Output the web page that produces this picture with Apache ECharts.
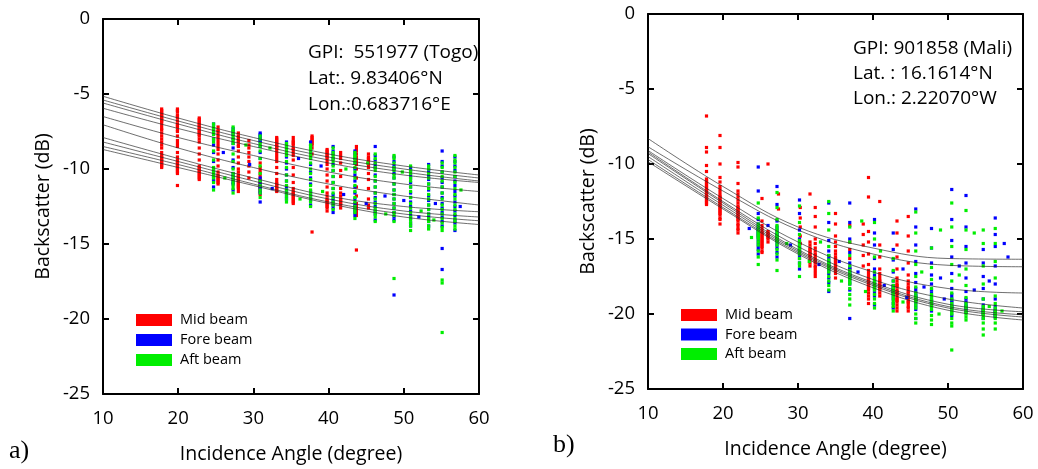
<!DOCTYPE html>
<html><head><meta charset="utf-8">
<script src="https://cdn.jsdelivr.net/npm/echarts@6/dist/echarts.min.js"></script>
<style>html,body{margin:0;padding:0;background:#fff}#c{width:1038px;height:469px}</style>
</head><body><div id="c"></div>
<script>
// ---------- shared ----------
const xTicks = [10, 20, 30, 40, 50, 60];
const yTicks = [0, -5, -10, -15, -20, -25];
const fitX = [10, 20, 30, 40, 50, 60];

// ---------- Panel a) GPI 551977 (Togo) ----------
const aFits = [
  [-5.15, -6.6, -7.9, -9.0, -9.8, -10.4],
  [-5.4, -6.8, -8.1, -9.2, -10.0, -10.6],
  [-5.6, -7.0, -8.3, -9.4, -10.2, -10.8],
  [-5.95, -7.3, -8.5, -9.6, -10.4, -10.9],
  [-6.5, -7.9, -9.1, -10.2, -11.0, -11.5],
  [-7.05, -8.6, -9.9, -11.0, -11.8, -12.4],
  [-7.9, -9.3, -10.6, -11.8, -12.5, -12.85],
  [-8.2, -9.5, -10.8, -12.0, -12.8, -13.2],
  [-8.5, -9.7, -11.0, -12.2, -13.0, -13.45],
  [-8.7, -9.9, -11.1, -12.3, -13.2, -13.7]
];

const aMidAng = [17.8, 19.9, 22.8, 25.3, 28.0, 29.4, 30.9, 33.1, 35.3, 37.8, 39.8, 41.6, 43.7, 45.3];
const aMidVal = [
  [-6.0,-6.1,-6.2,-6.3,-6.4,-6.5,-6.6,-6.7,-6.8,-6.9,-7.1,-7.3,-7.4,-7.6,-7.8,-8.0,-8.2,-8.4,-8.6,-8.9,-9.1,-9.2,-9.3,-9.4,-9.5,-9.6,-9.7,-9.8,-9.9],
  [-6.0,-6.1,-6.2,-6.4,-6.5,-6.6,-6.8,-7.0,-7.1,-7.2,-7.4,-7.5,-7.8,-8.1,-8.3,-8.5,-8.9,-9.2,-9.4,-9.5,-9.6,-9.7,-9.8,-9.9,-10.0,-10.1,-10.2,-10.3,-11.1],
  [-6.6,-6.7,-6.8,-6.9,-7.0,-7.1,-7.2,-7.3,-7.4,-7.5,-7.6,-7.7,-7.8,-8.0,-8.2,-8.6,-9.0,-9.4,-9.8,-9.9,-10.0,-10.1,-10.2,-10.3,-10.4,-10.5,-10.6,-10.7],
  [-7.2,-7.4,-7.5,-7.7,-7.9,-8.1,-8.3,-8.5,-8.7,-9.0,-9.4,-9.8,-10.2,-10.4,-10.5,-10.6,-10.7,-10.8,-10.9,-11.0],
  [-7.6,-7.8,-7.9,-8.1,-8.2,-8.4,-8.5,-8.8,-9.2,-9.6,-10.0,-10.2,-10.4,-10.5,-10.6,-10.7,-10.8,-10.9,-11.0,-11.1,-11.2,-11.3,-11.5],
  [-8.1,-8.4,-8.6,-8.9,-9.2,-9.5,-9.8,-10.2,-10.6],
  [-9.6,-9.9,-10.1,-10.3,-10.5,-10.7,-10.9,-11.0,-11.1,-11.2,-11.3,-11.4,-11.5,-11.7],
  [-7.9,-8.0,-8.1,-8.2,-8.3,-8.4,-8.5,-8.6,-8.7,-8.9,-9.1,-9.3,-9.5,-9.9,-10.3,-10.7,-10.9,-11.0,-11.1,-11.2,-11.3,-11.4,-11.5],
  [-7.9,-8.1,-8.2,-8.3,-8.4,-8.6,-8.7,-8.9,-9.1,-9.4,-9.9,-10.4,-10.9,-11.3,-11.5,-11.6,-11.7,-11.8,-11.9,-12.0,-12.1,-12.2,-12.3],
  [-7.8,-7.9,-8.0,-8.1,-8.2,-8.3,-8.4,-8.6,-9.0,-14.2],
  [-8.7,-8.8,-8.9,-9.0,-9.1,-9.2,-9.3,-9.5,-9.7,-10.0,-10.4,-10.8,-11.2,-11.6,-11.8,-12.0,-12.1,-12.2,-12.3,-12.4,-12.5,-12.6,-12.8],
  [-8.9,-9.1,-9.3,-9.6,-10.1,-10.5,-11.3,-11.6,-11.8,-12.0,-12.1,-12.2,-12.3,-12.4,-12.6],
  [-8.5,-8.7,-8.8,-9.0,-9.2,-9.3,-9.5,-9.7,-10.0,-10.6,-11.2,-11.8,-12.3,-12.5,-12.6,-12.7,-12.8,-12.9,-13.0,-13.1,-15.4],
  [-9.0,-9.2,-9.3,-9.4,-9.5,-9.7,-9.9,-10.3,-10.7,-11.3,-12.0,-12.4,-12.6]
];

const aSideAng = [24.7, 27.3, 30.9, 34.4, 37.6, 40.6, 43.5, 46.2, 48.7, 50.9, 53.3, 55.1, 56.8];
const aForeVal = [
  [-7.0,-7.3,-7.6,-8.0,-8.4,-8.9,-9.5,-10.0,-10.2,-10.4,-10.5,-10.7,-10.8,-11.2],
  [-7.3,-7.5,-7.7,-8.0,-8.3,-8.6,-9.4,-9.9,-10.3,-10.5,-10.7,-10.9,-11.0,-11.4],
  [-7.6,-7.7,-7.8,-7.9,-8.0,-8.1,-8.2,-8.5,-8.9,-9.3,-10.6,-10.8,-11.0,-11.2,-11.3,-11.5,-11.6,-12.2],
  [-8.2,-8.4,-8.6,-8.9,-9.2,-9.6,-10.0,-10.4,-10.8,-11.2,-11.4,-11.6,-11.8,-12.0],
  [-8.2,-8.4,-8.6,-8.8,-9.0,-9.3,-9.7,-10.2,-10.6,-11.0,-11.5,-11.7,-11.9,-12.1,-12.4],
  [-8.5,-8.8,-9.0,-9.3,-9.7,-10.1,-10.5,-10.9,-11.3,-11.7,-12.0,-12.2,-12.4,-12.6,-12.9],
  [-8.8,-9.0,-9.3,-9.6,-10.0,-10.4,-10.8,-11.2,-11.6,-12.0,-12.3,-12.5,-12.7,-12.9,-13.1],
  [-8.5,-9.1,-9.4,-9.7,-9.9,-10.4,-10.8,-11.2,-11.6,-11.9,-12.2,-12.5,-12.8,-13.0,-13.4],
  [-9.2,-9.5,-9.8,-10.0,-10.3,-10.6,-11.0,-11.4,-11.7,-12.0,-12.3,-12.6,-12.9,-13.2,-13.4,-18.4],
  [-9.9,-10.1,-10.4,-10.6,-10.9,-11.2,-11.6,-11.9,-12.2,-12.5,-12.8,-13.1,-13.3,-13.6,-13.8],
  [-9.7,-10.0,-10.2,-10.5,-10.7,-11.0,-11.4,-11.8,-12.1,-12.4,-12.7,-13.0,-13.2,-13.5,-13.8],
  [-8.8,-9.5,-9.8,-10.2,-10.6,-10.9,-11.2,-11.6,-11.9,-12.3,-12.6,-12.9,-13.2,-13.5,-13.8,-15.3,-16.7],
  [-9.2,-9.5,-9.8,-10.1,-10.5,-10.8,-11.1,-11.5,-11.8,-12.2,-12.5,-12.8,-13.1,-13.4,-13.6,-14.1]
];
const aAftVal = [
  [-7.0,-7.2,-7.3,-7.5,-7.7,-8.0,-8.2,-8.8,-9.4,-9.9,-10.1,-10.3,-10.5,-10.6,-10.9,-11.4],
  [-7.2,-7.4,-7.5,-7.7,-7.9,-8.1,-8.3,-9.0,-9.5,-10.0,-10.3,-10.5,-10.7,-10.9,-11.1,-11.3,-11.6],
  [-7.8,-8.0,-8.3,-8.5,-8.8,-9.3,-9.8,-10.3,-10.8,-11.1,-11.4,-11.6,-11.9],
  [-8.3,-8.5,-8.7,-8.9,-9.1,-9.5,-9.9,-10.4,-10.8,-11.1,-11.4,-11.6,-11.8,-12.0,-12.2],
  [-8.4,-8.5,-8.7,-8.8,-9.0,-9.1,-9.3,-9.6,-10.0,-10.3,-10.7,-11.1,-11.4,-11.6,-11.8,-12.0,-12.2,-12.5],
  [-8.6,-8.9,-9.1,-9.3,-9.5,-9.8,-10.1,-10.5,-10.9,-11.3,-11.6,-11.9,-12.2,-12.4,-12.7],
  [-8.9,-9.1,-9.2,-9.4,-9.6,-9.9,-10.2,-10.6,-11.1,-11.5,-11.9,-12.2,-12.5,-12.7,-12.9,-13.3],
  [-9.0,-9.3,-9.6,-9.9,-10.1,-10.5,-10.8,-11.2,-11.6,-12.0,-12.3,-12.6,-12.8,-13.0,-13.2,-13.5],
  [-9.1,-9.3,-9.6,-9.9,-10.1,-10.4,-10.6,-11.0,-11.4,-11.7,-12.0,-12.3,-12.6,-12.9,-13.1,-13.5,-17.3],
  [-9.8,-10.1,-10.3,-10.6,-10.8,-11.2,-11.5,-11.9,-12.3,-12.6,-12.9,-13.2,-13.4,-13.6,-13.8,-14.1],
  [-9.8,-10.0,-10.3,-10.6,-11.0,-11.3,-11.7,-12.0,-12.4,-12.7,-13.0,-13.3,-13.5,-13.8,-14.0],
  [-9.6,-9.9,-10.2,-10.5,-10.8,-11.2,-11.6,-12.0,-12.4,-12.7,-13.0,-13.3,-13.6,-13.9,-14.1,-17.4,-17.6,-20.9],
  [-9.1,-9.4,-9.6,-9.9,-10.2,-10.5,-10.9,-11.3,-11.7,-12.0,-12.4,-12.7,-13.0,-13.3,-13.5,-13.8,-14.0]
];
const aForeLoose = [[26.0,-8.9],[29.5,-9.7],[32.5,-11.3],[36.0,-9.3],[39.0,-9.8],[42.0,-11.7],[45.0,-12.3],[47.5,-11.8],[50.0,-12.1],[52.0,-13.2],[54.2,-12.3],[57.5,-12.5]];
const aAftLoose = [[26.2,-10.6],[29.0,-8.4],[32.2,-8.6],[36.2,-12.0],[39.2,-11.5],[42.3,-10.0],[45.2,-9.6],[47.6,-13.0],[49.8,-10.2],[52.3,-12.8],[54.0,-13.4],[57.6,-11.4]];

// ---------- Panel b) GPI 901858 (Mali) ----------
const bFits = [
  [-8.3, -11.5, -14.2, -15.6, -16.3, -16.35],
  [-8.85, -11.8, -14.4, -16.0, -16.75, -16.85],
  [-9.1, -12.3, -15.2, -17.2, -18.3, -18.6],
  [-9.2, -12.5, -15.5, -17.7, -19.0, -19.6],
  [-9.3, -12.6, -15.7, -17.9, -19.35, -19.85],
  [-9.5, -12.75, -15.8, -18.0, -19.5, -20.05],
  [-9.7, -12.9, -15.9, -18.1, -19.6, -20.2],
  [-9.85, -13.0, -16.0, -18.25, -19.75, -20.4]
];

const bMidAng = [17.8, 19.6, 22.0, 25.2, 26.0, 27.4, 30.3, 31.6, 32.3, 35.0, 36.9, 38.7, 39.4, 40.9, 43.2, 44.7];
const bMidVal = [
  [-6.8,-8.9,-9.2,-10.1,-10.5,-11.0,-11.1,-11.2,-11.3,-11.4,-11.5,-11.6,-11.7,-11.75,-11.8,-11.9,-12.0,-12.1,-12.15,-12.2,-12.3,-12.4,-12.5,-12.6,-12.7],
  [-8.1,-8.9,-10.0,-10.9,-11.2,-11.5,-11.7,-11.9,-12.1,-12.2,-12.3,-12.4,-12.5,-12.6,-12.7,-12.8,-12.9,-13.0,-13.1,-13.2,-13.3,-13.4,-13.6,-13.7,-14.0],
  [-9.9,-10.2,-11.3,-11.8,-12.0,-12.2,-12.4,-12.6,-12.8,-12.9,-13.0,-13.1,-13.2,-13.3,-13.4,-13.5,-13.6,-13.7,-13.8,-14.0,-14.1,-14.3,-14.4,-14.6],
  [-12.3,-13.8,-14.1,-14.3,-14.5,-14.6,-14.7,-14.8,-14.9,-15.0,-15.1,-15.2,-15.3,-15.4,-15.5,-15.6,-15.8,-15.9],
  [-10.0,-14.5,-14.6,-14.7,-14.8,-14.9,-15.0,-15.2],
  [-12.0,-13.0],
  [-12.9,-13.6,-14.2,-14.8,-15.3],
  [-12.0,-15.2,-15.4,-15.6,-15.7,-15.8,-15.9,-16.0,-16.1,-16.2,-16.4,-16.6,-16.8],
  [-12.9,-13.5,-14.2,-15.0,-15.3,-15.6,-15.8,-16.0,-16.1,-16.3,-16.4,-16.5,-16.6,-16.8,-16.9,-17.1,-17.3,-17.5],
  [-13.3,-14.0,-14.8,-15.2,-15.5,-15.8,-16.0,-16.2,-16.3,-16.4,-16.5,-16.6,-16.7,-16.8,-16.9,-17.0,-17.1,-17.3,-17.6],
  [-14.1,-15.2,-15.7,-16.3,-17.0],
  [-14.0,-14.7,-15.4,-16.1,-16.8],
  [-10.9,-12.2,-14.5,-15.2,-16.0,-16.7,-17.1,-17.3,-17.5,-17.6,-17.7,-17.8,-17.9,-18.0,-18.1,-18.2,-18.3,-18.4,-18.6,-18.8,-19.0,-19.3],
  [-12.5,-15.4,-16.2,-17.0,-17.3,-17.5,-17.7,-17.8,-17.9,-18.0,-18.1,-18.2,-18.3,-18.4,-18.6,-18.8],
  [-13.8,-14.6,-15.4,-16.2,-17.0,-17.6,-17.8,-18.0,-18.1,-18.2,-18.4,-18.5,-18.6,-18.7,-18.9,-19.0,-19.1,-19.2,-19.4,-19.6,-19.8],
  [-13.5,-14.8,-15.8,-16.6,-17.4,-17.8,-18.0,-18.2,-18.3,-18.5,-18.6,-18.8,-18.9,-19.1,-19.2,-19.3,-19.5,-19.6,-19.8]
];

const bSideAng = [24.7, 27.2, 30.2, 34.1, 36.9, 40.2, 42.7, 45.7, 47.8, 50.5, 52.4, 54.7, 56.3];
const bForeVal = [
  [-10.2,-11.8,-13.3,-13.7,-14.0,-14.2,-14.3,-14.4,-14.5,-14.6,-14.7,-14.8,-14.9,-15.1,-15.3,-15.5,-15.7,-16.0],
  [-11.5,-12.7,-13.8,-14.2,-14.4,-14.6,-14.7,-14.8,-14.9,-15.0,-15.1,-15.2,-15.4,-15.6,-15.9,-16.2],
  [-12.4,-13.3,-14.4,-15.0,-15.2,-15.4,-15.5,-15.6,-15.7,-15.8,-15.9,-16.1,-16.3,-16.6,-17.0],
  [-12.6,-13.9,-15.1,-15.8,-16.1,-16.3,-16.5,-16.6,-16.7,-16.8,-16.9,-17.0,-17.1,-17.3,-17.6,-17.9,-18.5],
  [-12.6,-13.9,-15.0,-15.9,-16.6,-16.9,-17.0,-17.2,-17.3,-17.4,-17.5,-17.6,-17.8,-18.0,-18.4,-20.3],
  [-13.7,-14.6,-15.4,-16.3,-17.0,-17.4,-17.6,-17.8,-17.9,-18.0,-18.1,-18.2,-18.4,-18.6,-18.8,-19.4],
  [-14.6,-15.7,-16.4,-17.2,-17.8,-18.1,-18.2,-18.3,-18.4,-18.5,-18.6,-18.8,-19.0,-19.3,-19.6],
  [-13.0,-14.2,-15.4,-16.5,-17.3,-17.9,-18.3,-18.5,-18.7,-18.8,-18.9,-19.0,-19.1,-19.3,-19.5,-19.7,-20.3],
  [-14.3,-15.6,-16.6,-17.4,-18.0,-18.4,-18.6,-18.8,-19.0,-19.1,-19.2,-19.3,-19.5,-19.8],
  [-11.7,-13.7,-15.1,-16.2,-17.3,-18.3,-18.7,-18.9,-19.1,-19.2,-19.4,-19.5,-19.6,-19.8,-20.1],
  [-12.1,-14.2,-15.5,-16.6,-17.6,-18.5,-19.0,-19.2,-19.4,-19.5,-19.6,-19.7,-19.9],
  [-15.7,-16.6,-17.5,-18.3,-19.0,-19.4,-19.6,-19.7,-19.8,-19.9,-20.0,-20.3],
  [-13.6,-14.7,-15.5,-16.8,-18.0,-19.0,-19.5,-19.7,-19.8,-19.9,-20.0,-20.1,-20.2]
];
const bAftVal = [
  [-12.6,-13.6,-14.0,-14.2,-14.4,-14.5,-14.6,-14.7,-14.8,-14.9,-15.0,-15.2,-15.4,-15.8,-16.2,-16.7],
  [-11.9,-12.9,-13.7,-14.1,-14.3,-14.5,-14.7,-14.8,-14.9,-15.0,-15.1,-15.2,-15.4,-15.7,-16.0,-16.4,-17.1],
  [-12.8,-13.9,-14.7,-15.1,-15.3,-15.5,-15.6,-15.7,-15.8,-15.9,-16.0,-16.3,-16.6,-16.8,-17.5],
  [-12.5,-13.3,-14.4,-15.5,-16.1,-16.4,-16.6,-16.7,-16.8,-16.9,-17.0,-17.2,-17.5,-17.8,-18.1,-18.4],
  [-14.2,-15.2,-16.1,-16.8,-17.1,-17.3,-17.4,-17.5,-17.6,-17.7,-17.9,-18.0,-18.3,-18.7,-19.0,-19.4],
  [-13.9,-15.0,-16.2,-17.2,-17.6,-17.8,-17.9,-18.0,-18.1,-18.2,-18.3,-18.4,-18.7,-19.0,-19.3,-19.6],
  [-16.3,-17.1,-17.8,-18.1,-18.3,-18.4,-18.5,-18.6,-18.7,-18.9,-19.1,-19.3,-19.5,-19.8],
  [-13.2,-14.6,-15.8,-16.7,-17.5,-18.2,-18.6,-18.8,-18.9,-19.0,-19.1,-19.2,-19.4,-19.6,-20.0,-20.3,-20.6],
  [-15.6,-16.9,-17.7,-18.3,-18.7,-18.9,-19.1,-19.2,-19.3,-19.4,-19.5,-19.7,-20.1,-20.4,-20.7],
  [-12.6,-14.2,-15.5,-16.7,-17.8,-18.6,-19.0,-19.3,-19.5,-19.6,-19.7,-19.9,-20.0,-20.3,-20.6,-20.8,-22.4],
  [-13.1,-14.4,-15.7,-17.0,-18.1,-18.9,-19.3,-19.5,-19.6,-19.8,-19.9,-20.0,-20.2,-20.4],
  [-14.4,-15.3,-16.8,-18.0,-19.0,-19.5,-19.7,-19.8,-19.9,-20.0,-20.1,-20.3,-20.6,-21.0,-21.4],
  [-14.3,-15.3,-16.5,-17.6,-18.8,-19.3,-19.6,-19.8,-19.9,-20.0,-20.1,-20.3,-20.6,-21.0]
];
const bForeLoose = [[23.5,-14.3],[26.0,-14.1],[29.0,-15.4],[32.8,-16.7],[35.5,-16.5],[38.0,-17.2],[41.5,-18.1],[44.0,-17.0],[46.8,-18.2],[49.0,-17.6],[51.5,-16.8],[53.5,-18.4],[55.5,-17.8],[57.5,-15.3],[58.0,-16.2],[49.5,-19.0],[44.5,-18.9]];
const bAftLoose = [[23.8,-14.9],[28.5,-15.3],[31.5,-16.5],[33.0,-15.2],[35.8,-17.8],[38.5,-13.8],[41.0,-15.8],[44.0,-19.2],[46.5,-17.2],[49.0,-14.4],[51.5,-17.4],[53.5,-14.6],[55.5,-19.5],[57.2,-19.8],[48.8,-20.0],[39.0,-18.5]];

const beamNames = ['Mid beam', 'Fore beam', 'Aft beam'];
const beamColors = ['#ff0000', '#0000ff', '#00ee00'];
const notesA = ['GPI:  551977 (Togo)', 'Lat:. 9.83406°N', 'Lon.:0.683716°E'];
const notesB = ['GPI: 901858 (Mali)', 'Lat. : 16.1614°N', 'Lon.: 2.22070°W'];

// ---------- build ----------
const FONT = 'Open Sans';
function pts(angs, vals, loose) {
  const out = [];
  angs.forEach((a, i) => vals[i].forEach(v => out.push([a, v])));
  (loose || []).forEach(p => out.push(p));
  return out;
}
function fitData(f) { return fitX.map((x, i) => [x, f[i]]); }

function xAx(grid, pos) {
  const main = pos === 'bottom';
  return {
    type: 'value', gridIndex: grid, position: pos, min: xTicks[0], max: xTicks[xTicks.length - 1], interval: 10,
    axisLine: { show: true, onZero: false, lineStyle: { color: '#000', width: 2 } },
    axisTick: { show: true, inside: true, length: 6, lineStyle: { color: '#000', width: 2 } },
    axisLabel: { show: main, color: '#000', fontSize: 18.5, fontFamily: FONT, margin: 15 },
    splitLine: { show: false },
    name: main ? 'Incidence Angle (degree)' : '',
    nameLocation: 'middle', nameGap: 50,
    nameTextStyle: { color: '#000', fontSize: 19.5, fontFamily: FONT }
  };
}
function yAx(grid, pos) {
  const main = pos === 'left';
  return {
    type: 'value', gridIndex: grid, position: pos, min: yTicks[yTicks.length - 1], max: yTicks[0], interval: 5,
    axisLine: { show: true, onZero: false, lineStyle: { color: '#000', width: 2 } },
    axisTick: { show: true, inside: true, length: 6, lineStyle: { color: '#000', width: 2 } },
    axisLabel: { show: main, color: '#000', fontSize: 18.5, fontFamily: FONT, margin: 13 },
    splitLine: { show: false },
    name: main ? 'Backscatter (dB)' : '',
    nameLocation: 'middle', nameGap: 50,
    nameTextStyle: { color: '#000', fontSize: 19.5, fontFamily: FONT }
  };
}

const series = [];
function addPanel(g, mid, fore, aft, fits) {
  [mid, fore, aft].forEach((d, k) => {
    series.push({
      type: 'scatter', name: beamNames[k], xAxisIndex: g * 2, yAxisIndex: g * 2,
      data: d, symbol: 'rect', symbolSize: 3.2, itemStyle: { color: beamColors[k], opacity: 1 },
      z: 2, silent: true
    });
  });
  fits.forEach(f => series.push({
    type: 'line', xAxisIndex: g * 2, yAxisIndex: g * 2, data: fitData(f),
    smooth: 0.4, showSymbol: false, symbol: 'none', silent: true, z: 3,
    lineStyle: { color: 'rgba(40,40,40,0.75)', width: 0.9 }
  }));
}
addPanel(0, pts(aMidAng, aMidVal), pts(aSideAng, aForeVal, aForeLoose), pts(aSideAng, aAftVal, aAftLoose), aFits);
addPanel(1, pts(bMidAng, bMidVal), pts(bSideAng, bForeVal, bForeLoose), pts(bSideAng, bAftVal, bAftLoose), bFits);

function legend(left, top, gap) {
  return {
    left: left, top: top, orient: 'vertical', itemWidth: 36, itemHeight: 12, itemGap: gap,
    icon: 'rect', selectedMode: false, data: beamNames, padding: 0,
    itemStyle: { opacity: 1 },
    textStyle: { color: '#000', fontSize: 14.5, fontFamily: FONT, lineHeight: 16, padding: [0, 0, 0, 3] }
  };
}
function note(lines, left, top, lh) {
  return {
    text: lines.join('\n'), left: left, top: top, padding: 0,
    textStyle: { color: '#000', fontSize: 19, fontWeight: 'normal', fontFamily: FONT, lineHeight: lh }
  };
}

const chart = echarts.init(document.getElementById('c'), null, { renderer: 'canvas' });
chart.setOption({
  backgroundColor: '#fff',
  animation: false,
  grid: [
    { left: 103, top: 19, width: 376, height: 375 },
    { left: 648, top: 14, width: 375, height: 375 }
  ],
  xAxis: [xAx(0, 'bottom'), xAx(0, 'top'), xAx(1, 'bottom'), xAx(1, 'top')],
  yAxis: [yAx(0, 'left'), yAx(0, 'right'), yAx(1, 'left'), yAx(1, 'right')],
  title: [note(notesA, 308, 40, 26), note(notesB, 853, 36.5, 25),
    { text: 'a)', left: 9, top: 438, padding: 0, textStyle: { color: '#000', fontSize: 26, fontWeight: 'normal', fontFamily: 'Liberation Serif' } },
    { text: 'b)', left: 553, top: 432, padding: 0, textStyle: { color: '#000', fontSize: 26, fontWeight: 'normal', fontFamily: 'Liberation Serif' } }
  ],
  legend: [legend(136, 312, 4), legend(681, 307, 3.5)],
  series: series
});
</script></body></html>
